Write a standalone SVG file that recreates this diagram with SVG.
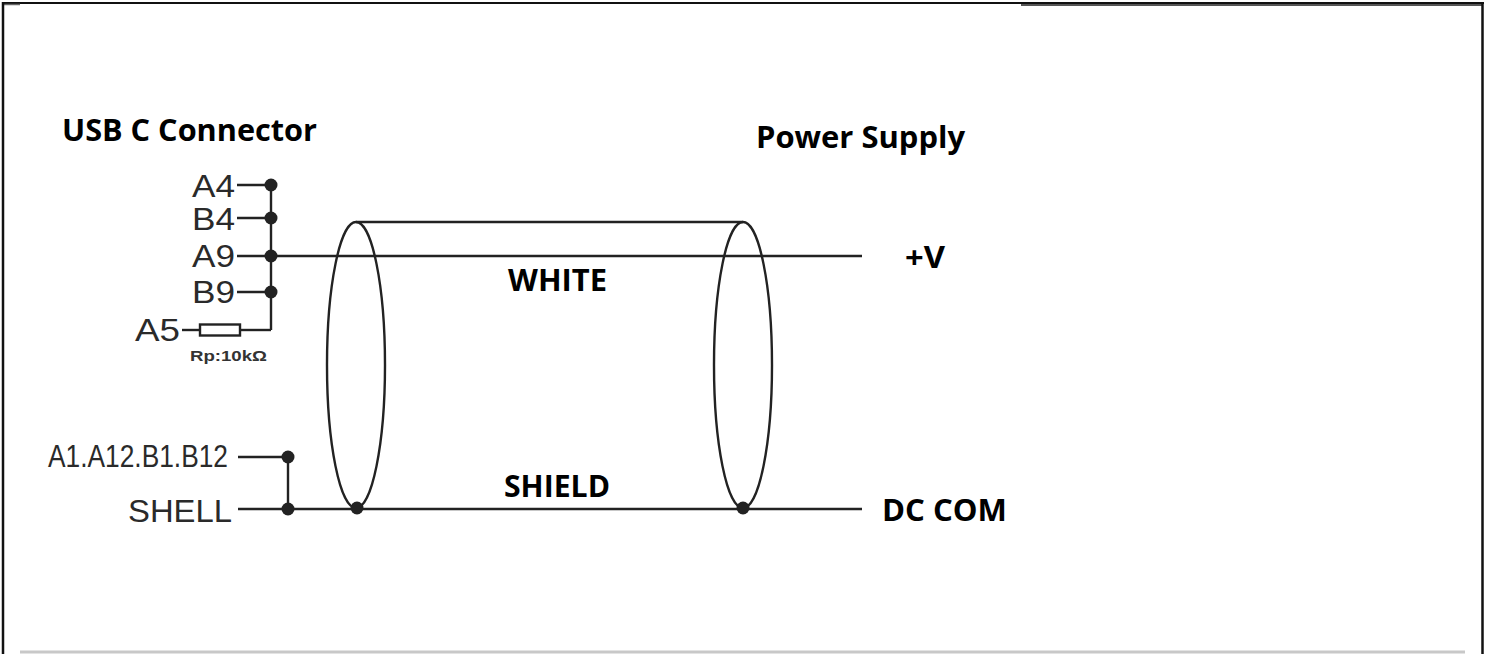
<svg xmlns="http://www.w3.org/2000/svg" width="1485" height="654" viewBox="0 0 1485 654">
<style>
.w{stroke:#222;stroke-width:2.4;fill:none}
.d{fill:#222}
.pin{font-family:"Liberation Sans",sans-serif;font-size:31px;fill:#2a2a2a}
.b{font-family:"Open Sans","Liberation Sans",sans-serif;font-weight:bold;font-size:31px;fill:#000}
</style>
<rect width="1485" height="654" fill="#fff"/>
<g id="frame">
<line x1="2" y1="3" x2="1484" y2="3" stroke="#111" stroke-width="2"/>
<line x1="1021" y1="5" x2="1483" y2="5" stroke="#555" stroke-width="2"/>
<line x1="4" y1="4.5" x2="20" y2="4.5" stroke="#666" stroke-width="1.5"/>
<line x1="3" y1="2" x2="3" y2="654" stroke="#111" stroke-width="2.5"/>
<line x1="1482.5" y1="2" x2="1482.5" y2="654" stroke="#111" stroke-width="2.5"/>
<line x1="20" y1="652" x2="1465" y2="652" stroke="#c8c8c8" stroke-width="3"/>
</g>
<g id="usb-connector">
<text class="b" x="62" y="141" textLength="255" lengthAdjust="spacingAndGlyphs">USB C Connector</text>
<text class="pin" x="192" y="197" textLength="43" lengthAdjust="spacingAndGlyphs">A4</text>
<text class="pin" x="192" y="230" textLength="43" lengthAdjust="spacingAndGlyphs">B4</text>
<text class="pin" x="192" y="267" textLength="43" lengthAdjust="spacingAndGlyphs">A9</text>
<text class="pin" x="192" y="303" textLength="43" lengthAdjust="spacingAndGlyphs">B9</text>
<text class="pin" x="135" y="341" textLength="45" lengthAdjust="spacingAndGlyphs">A5</text>
<text x="190" y="361" font-family="Liberation Sans,sans-serif" font-weight="bold" font-size="14" fill="#333" textLength="77" lengthAdjust="spacingAndGlyphs">Rp:10kΩ</text>
<text class="pin" x="48" y="467" font-size="23" textLength="180" lengthAdjust="spacingAndGlyphs">A1.A12.B1.B12</text>
<text class="pin" x="128" y="522" font-size="37" textLength="104" lengthAdjust="spacingAndGlyphs">SHELL</text>
</g>
<g id="power-supply">
<text class="b" x="756" y="148" textLength="209" lengthAdjust="spacingAndGlyphs">Power Supply</text>
<text class="b" x="905" y="268" textLength="40" lengthAdjust="spacingAndGlyphs">+V</text>
<text class="b" x="882" y="521" textLength="125" lengthAdjust="spacingAndGlyphs">DC COM</text>
</g>
<g id="cable">
<ellipse class="w" cx="356" cy="365" rx="29" ry="143"/>
<ellipse class="w" cx="743" cy="365" rx="29" ry="143"/>
<line class="w" x1="356" y1="222" x2="743" y2="222"/>
<text class="b" x="508" y="291" textLength="99" lengthAdjust="spacingAndGlyphs">WHITE</text>
<text class="b" x="504" y="497" textLength="106" lengthAdjust="spacingAndGlyphs">SHIELD</text>
</g>
<g id="connectors">
<line class="w" x1="237" y1="185" x2="271" y2="185"/>
<line class="w" x1="237" y1="218" x2="271" y2="218"/>
<line class="w" x1="237" y1="256" x2="862" y2="256"/>
<line class="w" x1="237" y1="292" x2="271" y2="292"/>
<line class="w" x1="271" y1="185" x2="271" y2="330"/>
<line class="w" x1="182" y1="330" x2="200" y2="330"/>
<rect class="w" x="200" y="324.5" width="40" height="11"/>
<line class="w" x1="240" y1="330" x2="271" y2="330"/>
<line class="w" x1="238" y1="457" x2="288" y2="457"/>
<line class="w" x1="288" y1="457" x2="288" y2="509"/>
<line class="w" x1="238" y1="509" x2="862" y2="509"/>
<circle class="d" cx="271" cy="185" r="6.5"/>
<circle class="d" cx="271" cy="218" r="6.5"/>
<circle class="d" cx="271" cy="256" r="6.5"/>
<circle class="d" cx="271" cy="292" r="6.5"/>
<circle class="d" cx="288" cy="457" r="6.5"/>
<circle class="d" cx="288" cy="509" r="6.5"/>
<circle class="d" cx="357" cy="508" r="6.5"/>
<circle class="d" cx="743" cy="508" r="6.5"/>
</g>
</svg>
